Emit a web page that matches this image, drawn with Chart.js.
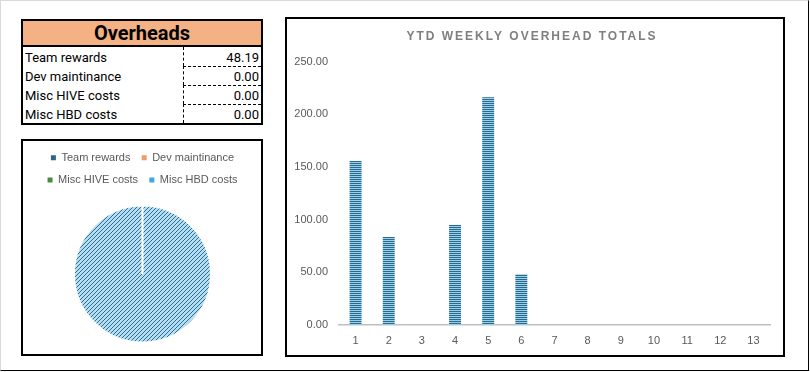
<!DOCTYPE html>
<html>
<head>
<meta charset="utf-8">
<script src="https://cdn.jsdelivr.net/npm/chart.js@4.4.0/dist/chart.umd.min.js"></script>
<style>
  body { margin: 0; background: #fff; width: 810px; height: 372px; overflow: hidden; }
  #page {
    position: absolute; left: 0; top: 0; width: 807px; height: 369px;
    border-left: 1px solid #d9d9d9; border-top: 1px solid #d9d9d9;
    border-right: 1px solid #000; border-bottom: 1px solid #000;
  }
  .frame { position: absolute; border: 2px solid #000; background: #fff; box-sizing: border-box; }
  #tbl { left: 21px; top: 19px; width: 242px; height: 106px; font-family: Roboto, sans-serif; color: #000; }
  #tbl .hdr {
    height: 26px; line-height: 25px; background: #f4b183; border-bottom: 2px solid #000;
    box-sizing: border-box; text-align: center; font-weight: bold; font-size: 20px;
  }
  #tbl .row { display: flex; height: 19px; font-size: 13px; line-height: 21px; }
  #tbl .lbl { width: 160px; padding-left: 2px; box-sizing: border-box; white-space: nowrap; }
  #tbl .val { flex: 1; border-left: 1px dashed #000; text-align: right; padding-right: 2px; box-sizing: border-box; }
  #tbl .row + .row .val { border-top: 1px dashed #000; line-height: 20px; }
  #pieBox { left: 21px; top: 139px; width: 242px; height: 217px; }
  #barBox { left: 285px; top: 17px; width: 500px; height: 340px; }
  canvas { display: block; }
</style>
</head>
<body>
<div id="page"></div>
<div id="tbl" class="frame"><div class="hdr">Overheads</div></div>
<div id="pieBox" class="frame"><div style="width:238px;height:213px"><canvas id="pieChart"></canvas></div></div>
<div id="barBox" class="frame"><div style="width:496px;height:336px"><canvas id="barChart"></canvas></div></div>
<script>
"use strict";

// ========== DỮ LIỆU ==========
const overheadLabels = ["Team rewards", "Dev maintinance", "Misc HIVE costs", "Misc HBD costs"];
const overheadValues = [48.19, 0, 0, 0];

const weekLabels = ["1", "2", "3", "4", "5", "6", "7", "8", "9", "10", "11", "12", "13"];
const weeklyTotals = [155.6, 83.5, 0, 94.9, 216.0, 48.19, 0, 0, 0, 0, 0, 0, 0];
const yMin = 0, yMax = 250, yStep = 50;

const chartTitle = "YTD WEEKLY OVERHEAD TOTALS";
const legendColors = ["#2b6689", "#ef9c6c", "#4a8a3f", "#45a8dc"];

Chart.defaults.font.family = '"Liberation Sans", Arial, sans-serif';
Chart.defaults.font.size = 11;
Chart.defaults.color = "#595959";
Chart.defaults.animation = false;

// ========== BẢNG ==========
var tbl = document.getElementById("tbl");
overheadLabels.forEach((name, i) => {
  const row = document.createElement("div");
  row.className = "row";
  row.innerHTML = '<div class="lbl"></div><div class="val"></div>';
  row.children[0].textContent = name;
  row.children[1].textContent = overheadValues[i].toFixed(2);
  tbl.appendChild(row);
});

// ========== HOA VĂN ==========
function stripes(dark, light) {
  const c = document.createElement("canvas");
  c.width = 1; c.height = 2;
  const g = c.getContext("2d");
  g.fillStyle = light; g.fillRect(0, 0, 1, 2);
  g.fillStyle = dark; g.fillRect(0, 0, 1, 1);
  return g.createPattern(c, "repeat");
}
function diagonal(dark, light) {
  const c = document.createElement("canvas");
  c.width = 4; c.height = 4;
  const g = c.getContext("2d");
  g.fillStyle = light; g.fillRect(0, 0, 4, 4);
  g.fillStyle = dark;
  for (let k = 0; k < 4; k++) g.fillRect(3 - k, k, 1, 1);
  return g.createPattern(c, "repeat");
}

// ========== BIỂU ĐỒ TRÒN ==========
var pieCanvas = document.getElementById("pieChart");
if (pieCanvas) {
  const baseLabels = Chart.DoughnutController.overrides.plugins.legend.labels.generateLabels;
  new Chart(pieCanvas.getContext("2d"), {
    type: "pie",
    data: {
      labels: overheadLabels,
      datasets: [{
        data: overheadValues,
        backgroundColor: [
          diagonal("#2c6d91", "#b6def2"),
          diagonal("#c8632c", "#f8c7a8"),
          diagonal("#356e2b", "#a6d196"),
          diagonal("#1f82b8", "#a3d8f3")
        ],
        borderColor: "#ffffff",
        borderWidth: 2,
        radius: 68.5
      }]
    },
    options: {
      responsive: true,
      maintainAspectRatio: false,
      layout: { padding: { left: 1, right: 0, top: 0, bottom: 1.4 } },
      plugins: {
        tooltip: { enabled: false },
        legend: {
          position: "top",
          labels: {
            boxWidth: 5,
            boxHeight: 5,
            padding: 11.2,
            color: "#595959",
            generateLabels: function (chart) {
              const items = baseLabels(chart);
              items.forEach((it, i) => {
                it.lineWidth = 0;
                it.fillStyle = legendColors[i];
              });
              return items;
            }
          }
        }
      }
    }
  });
}

// ========== BIỂU ĐỒ CỘT ==========
const spacedTitle = {
  id: "spacedTitle",
  afterDraw(chart) {
    const box = chart.titleBlock;
    const ctx = chart.ctx;
    ctx.save();
    ctx.font = 'bold 12px "Liberation Sans", Arial, sans-serif';
    ctx.fillStyle = "#7f7f7f";
    ctx.letterSpacing = "2px";
    ctx.textAlign = "center";
    ctx.textBaseline = "middle";
    ctx.fillText(chartTitle, chart.width / 2 - 3, box.top + box.height / 2 + (box.options.padding.top - box.options.padding.bottom) / 2);
    ctx.restore();
  }
};

var barCanvas = document.getElementById("barChart");
if (barCanvas) {
  new Chart(barCanvas.getContext("2d"), {
    type: "bar",
    data: {
      labels: weekLabels,
      datasets: [{
        label: chartTitle,
        data: weeklyTotals,
        backgroundColor: stripes("#276c90", "#9ccfe6"),
        borderWidth: 0,
        barPercentage: 0.36,
        categoryPercentage: 1.0
      }]
    },
    options: {
      responsive: true,
      maintainAspectRatio: false,
      layout: { padding: { left: 0, right: 13, top: 0, bottom: 8 } },
      plugins: {
        legend: { display: false },
        tooltip: { enabled: false },
        title: {
          display: true,
          text: chartTitle,
          color: "rgba(0,0,0,0)",
          font: { size: 12, weight: "bold" },
          padding: { top: 10.8, bottom: 17.3 }
        }
      },
      scales: {
        x: {
          grid: { display: false, drawTicks: false },
          border: { display: true, color: "#bfbfbf", width: 1.5 },
          ticks: { padding: 9, color: "#595959" },
          afterFit: scale => { scale.height = 22; }
        },
        y: {
          min: yMin,
          max: yMax,
          grid: { display: false, drawTicks: false },
          border: { display: false },
          ticks: {
            stepSize: yStep,
            padding: 11,
            color: "#595959",
            callback: v => v.toFixed(2)
          },
          afterFit: scale => { scale.width = 52; }
        }
      }
    },
    plugins: [spacedTitle]
  });
}
</script>
</body>
</html>
